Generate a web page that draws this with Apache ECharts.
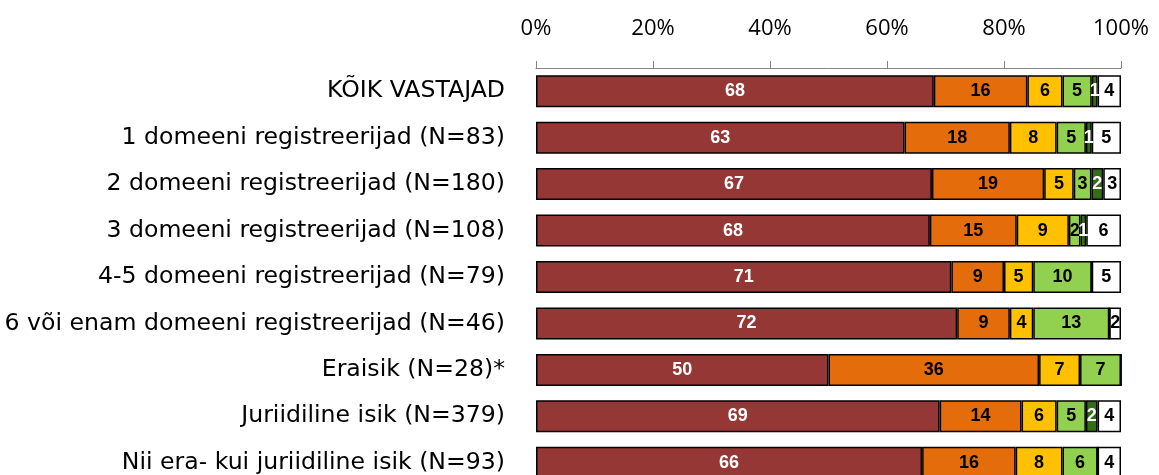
<!DOCTYPE html>
<html><head><meta charset="utf-8">
<script src="https://cdn.jsdelivr.net/npm/echarts@6/dist/echarts.min.js"></script>
<style>html,body{margin:0;padding:0;background:#fff;overflow:hidden}#c{width:1159px;height:520px}</style>
</head><body><div id="c"></div>
<script>
const categories = [
  "KÕIK VASTAJAD",
  "1 domeeni registreerijad (N=83)",
  "2 domeeni registreerijad (N=180)",
  "3 domeeni registreerijad (N=108)",
  "4-5 domeeni registreerijad (N=79)",
  "6 või enam domeeni registreerijad (N=46)",
  "Eraisik (N=28)*",
  "Juriidiline isik (N=379)",
  "Nii era- kui juriidiline isik (N=93)"
];
const s1 = [68, 63, 67, 68, 71, 72, 50, 69, 66];
const s2 = [16, 18, 19, 15, 9, 9, 36, 14, 16];
const s3 = [6, 8, 5, 9, 5, 4, 7, 6, 8];
const s4 = [5, 5, 3, 2, 10, 13, 7, 5, 6];
const s5 = [1, 1, 2, 1, 0, 0, 0, 2, 0];
const s6 = [4, 5, 3, 6, 5, 2, 0, 4, 4];
const tickLabels = ["0%", "20%", "40%", "60%", "80%", "100%"];

const seriesVals = [s1, s2, s3, s4, s5, s6];
const colors = ["#953735", "#E46C0A", "#FFC000", "#92D050", "#336E17", "#FFFFFF"];
const labelColors = ["#fff", "#000", "#000", "#000", "#fff", "#000"];
const totals = categories.map((_, i) => seriesVals.reduce((a, s) => a + s[i], 0));

const chart = echarts.init(document.getElementById('c'), null, {renderer: 'canvas'});
chart.setOption({
  animation: false,
  grid: {left: 536, right: 38, top: 68, height: 418, outerBoundsMode: 'none', containLabel: false},
  xAxis: {
    type: 'value', position: 'top', min: 0, max: 100, interval: 20,
    axisLine: {show: true, lineStyle: {color: '#868686', width: 1}},
    axisTick: {show: true, length: 7, lineStyle: {color: '#868686'}},
    splitLine: {show: false},
    axisLabel: {
      margin: 28, color: '#000', fontFamily: 'Open Sans', fontSize: 22,
      formatter: v => tickLabels[Math.round(v / 20)]
    }
  },
  yAxis: {
    type: 'category', inverse: true, data: categories,
    axisLine: {show: false}, axisTick: {show: false},
    axisLabel: {margin: 31, color: '#000', fontFamily: 'DejaVu Sans', fontSize: 23.6}
  },
  series: seriesVals.map((vals, k) => ({
    type: 'bar', stack: 'all', barWidth: 32,
    data: vals.map((v, i) => ({value: v / totals[i] * 100, raw: v})),
    itemStyle: {color: colors[k], borderColor: '#000', borderWidth: 1.5},
    label: {
      show: true, position: 'inside', color: labelColors[k],
      fontFamily: 'Liberation Sans', fontWeight: 'bold', fontSize: 18,
      formatter: p => p.data.raw ? String(p.data.raw) : ''
    }
  }))
});
</script></body></html>
